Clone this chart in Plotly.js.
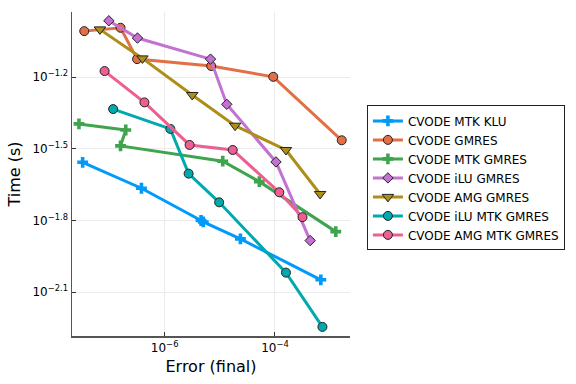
<!DOCTYPE html>
<html>
<head>
<meta charset="utf-8">
<script src="https://cdn.plot.ly/plotly-3.0.1.min.js"></script>
<style>html,body{margin:0;padding:0;background:#fff;}#plot{width:576px;height:384px;}</style>
</head>
<body>
<div id="plot"></div>
<script>
// log10 values
const seriesNames = ["CVODE MTK KLU","CVODE GMRES","CVODE MTK GMRES","CVODE iLU GMRES","CVODE AMG GMRES","CVODE iLU MTK GMRES","CVODE AMG MTK GMRES"];
const klu_logErr   = [-7.487, -6.421, -5.34, -5.30, -4.627, -3.169];
const klu_logTime  = [-1.5565, -1.665, -1.800, -1.806, -1.877, -2.048];
const gmres_logErr  = [-7.458, -6.800, -6.500, -5.156, -4.031, -2.790];
const gmres_logTime = [-1.008, -0.994, -1.125, -1.154, -1.199, -1.4645];
const mtkg_logErr  = [-7.554, -6.705, -6.800, -4.947, -4.284, -2.898];
const mtkg_logTime = [-1.396, -1.4215, -1.488, -1.552, -1.6375, -1.8465];
const ilu_logErr  = [-7.012, -6.493, -5.169, -4.874, -3.982, -3.362];
const ilu_logTime = [-0.9647, -1.037, -1.125, -1.314, -1.555, -1.884];
const amg_logErr  = [-7.174, -6.403, -5.500, -4.723, -3.801, -3.182];
const amg_logTime = [-1.0007, -1.122, -1.275, -1.4035, -1.505, -1.689];
const ilumtk_logErr  = [-6.934, -5.897, -5.566, -5.012, -3.801, -3.140];
const ilumtk_logTime = [-1.334, -1.417, -1.604, -1.724, -2.018, -2.245];
const amgmtk_logErr  = [-7.089, -6.367, -5.548, -4.766, -3.922, -3.501];
const amgmtk_logTime = [-1.175, -1.306, -1.484, -1.505, -1.682, -1.786];

const xTickExp = [-6, -4];
const xTickText = ["10<sup>−6</sup>", "10<sup>−4</sup>"];
const yTickExp = [-2.1, -1.8, -1.5, -1.2];
const yTickText = ["10<sup>−2.1</sup>", "10<sup>−1.8</sup>", "10<sup>−1.5</sup>", "10<sup>−1.2</sup>"];

const colors = ["#009AFA","#E36F47","#3EA44E","#C371D2","#AC8E18","#00A9AD","#ED5E93"];
const symbols = ["cross","circle","cross","diamond","triangle-down","circle","circle"];
const sizes = [9, 9, 9, 8, 10, 9, 9];

const allErr = [klu_logErr, gmres_logErr, mtkg_logErr, ilu_logErr, amg_logErr, ilumtk_logErr, amgmtk_logErr];
const allTime = [klu_logTime, gmres_logTime, mtkg_logTime, ilu_logTime, amg_logTime, ilumtk_logTime, amgmtk_logTime];
const pow10 = a => a.map(v => Math.pow(10, v));

const traces = seriesNames.map((name, i) => {
  const isCross = symbols[i] === "cross";
  return {
    type: "scatter", mode: "lines+markers", name: name,
    x: pow10(allErr[i]), y: pow10(allTime[i]),
    line: {color: colors[i], width: 3},
    marker: {symbol: symbols[i], size: sizes[i], color: colors[i],
             line: {color: isCross ? colors[i] : "#222", width: isCross ? 0 : 1}}
  };
});

const layout = {
  width: 576, height: 384,
  margin: {l: 72, r: 225, t: 12, b: 48},
  paper_bgcolor: "#fff", plot_bgcolor: "#fff",
  font: {family: "DejaVu Sans, sans-serif", color: "#000"},
  showlegend: true,
  legend: {x: 1.057, xanchor: "left", y: 0.488, yanchor: "middle",
           bordercolor: "#222", borderwidth: 1, bgcolor: "#fff",
           font: {size: 12}, tracegroupgap: 0},
  xaxis: {type: "log", range: [-7.68, -2.64],
          tickvals: pow10(xTickExp), ticktext: xTickText,
          tickfont: {size: 12}, ticks: "inside", ticklen: 4, tickcolor: "#333",
          showgrid: true, gridcolor: "#ebebeb", gridwidth: 1,
          showline: true, linecolor: "#555", linewidth: 1.5, mirror: false, zeroline: false,
          title: {text: "Error (final)", font: {size: 16}, standoff: 7}},
  yaxis: {type: "log", range: [-2.283, -0.928],
          tickvals: pow10(yTickExp), ticktext: yTickText,
          tickfont: {size: 12}, ticks: "inside", ticklen: 4, tickcolor: "#333",
          showgrid: true, gridcolor: "#ebebeb", gridwidth: 1,
          showline: true, linecolor: "#555", linewidth: 1.5, mirror: false, zeroline: false,
          title: {text: "Time (s)", font: {size: 16}, standoff: 8}}
};

Plotly.newPlot("plot", traces, layout, {displayModeBar: false, staticPlot: true});
</script>
</body>
</html>
